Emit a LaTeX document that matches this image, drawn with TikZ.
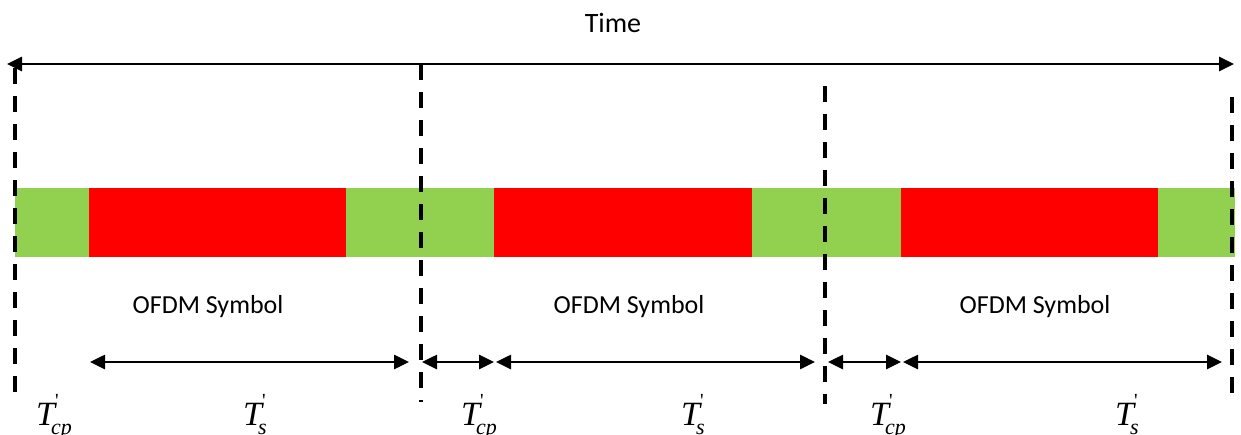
\documentclass[tikz,border=0pt]{standalone}
\usepackage{fontspec}
\setmainfont{Carlito}
\newfontfamily\symfont{Liberation Serif}
\usetikzlibrary{arrows.meta}
\definecolor{cpgreen}{RGB}{146,208,80}
\definecolor{symred}{RGB}{255,0,0}
% italic duration label: T with a prime and a subscript
\newcommand{\durlab}[1]{{\symfont\itshape\fontsize{34}{34}\selectfont T}\rlap{\raisebox{18pt}{\symfont\fontsize{20}{20}\selectfont '}}\kern-4pt\raisebox{-9pt}{\symfont\itshape\fontsize{22}{22}\selectfont #1}}
\begin{document}
\begin{tikzpicture}[x=1pt,y=-1pt,
  seg/.style={draw=none,inner sep=0pt,outer sep=0pt,minimum height=69pt,anchor=north west},
  cpseg/.style={seg,fill=cpgreen},
  symseg/.style={seg,fill=symred},
  bound/.style={line width=3.6pt,dash pattern=on 16pt off 12pt},
  span/.style={line width=2.6pt,{Triangle[length=15pt,width=14pt]}-{Triangle[length=15pt,width=14pt]}},
  lbl/.style={inner sep=0pt,font=\fontsize{26}{26}\selectfont},
  tlbl/.style={inner sep=0pt,anchor=base west}]
\useasboundingbox (0,0) rectangle (1241,434);

% time axis
\coordinate (tl) at (7,64);
\coordinate (tr) at (1234,64);
\draw[span] (tl) -- (tr);
\node[lbl,font=\fontsize{28}{28}\selectfont,anchor=base] (time) at (613,32) {Time};

% symbol bar
\node[cpseg,minimum width=74pt]  (g1) at (15,188) {};
\node[symseg,minimum width=257pt] (r1) at (89,188) {};
\node[cpseg,minimum width=148pt] (g2) at (346,188) {};
\node[symseg,minimum width=258pt] (r2) at (494,188) {};
\node[cpseg,minimum width=149pt] (g3) at (752,188) {};
\node[symseg,minimum width=257pt] (r3) at (901,188) {};
\node[cpseg,minimum width=77pt]  (g4) at (1158,188) {};

% symbol boundaries
\coordinate (b1t) at (15,68);   \coordinate (b1b) at (15,400);
\coordinate (b2t) at (421,64);  \coordinate (b2b) at (421,402);
\coordinate (b3t) at (825,86);  \coordinate (b3b) at (825,404);
\coordinate (b4t) at (1232,97); \coordinate (b4b) at (1232,398);
\draw[bound] (b1t) -- (b1b);
\draw[bound] (b2t) -- (b2b);
\draw[bound] (b3t) -- (b3b);
\draw[bound] (b4t) -- (b4b);

% symbol captions
\node[lbl,anchor=base] (o1) at (208,313) {OFDM Symbol};
\node[lbl,anchor=base] (o2) at (629,313) {OFDM Symbol};
\node[lbl,anchor=base] (o3) at (1035,313) {OFDM Symbol};

% durations
\coordinate (s1a) at (90,362);  \coordinate (s1b) at (409,362);
\coordinate (c2a) at (422,362); \coordinate (c2b) at (494,362);
\coordinate (s2a) at (496,362); \coordinate (s2b) at (815,362);
\coordinate (c3a) at (828,362); \coordinate (c3b) at (901,362);
\coordinate (s3a) at (903,362); \coordinate (s3b) at (1222,362);
\draw[span] (s1a) -- (s1b);
\draw[span] (c2a) -- (c2b);
\draw[span] (s2a) -- (s2b);
\draw[span] (c3a) -- (c3b);
\draw[span] (s3a) -- (s3b);

\node[tlbl] (t1) at (36,425)  {\durlab{cp}};
\node[tlbl] (t2) at (243,425) {\durlab{s}};
\node[tlbl] (t3) at (461,425) {\durlab{cp}};
\node[tlbl] (t4) at (681,425) {\durlab{s}};
\node[tlbl] (t5) at (870,425) {\durlab{cp}};
\node[tlbl] (t6) at (1115,425) {\durlab{s}};
\end{tikzpicture}
\end{document}
